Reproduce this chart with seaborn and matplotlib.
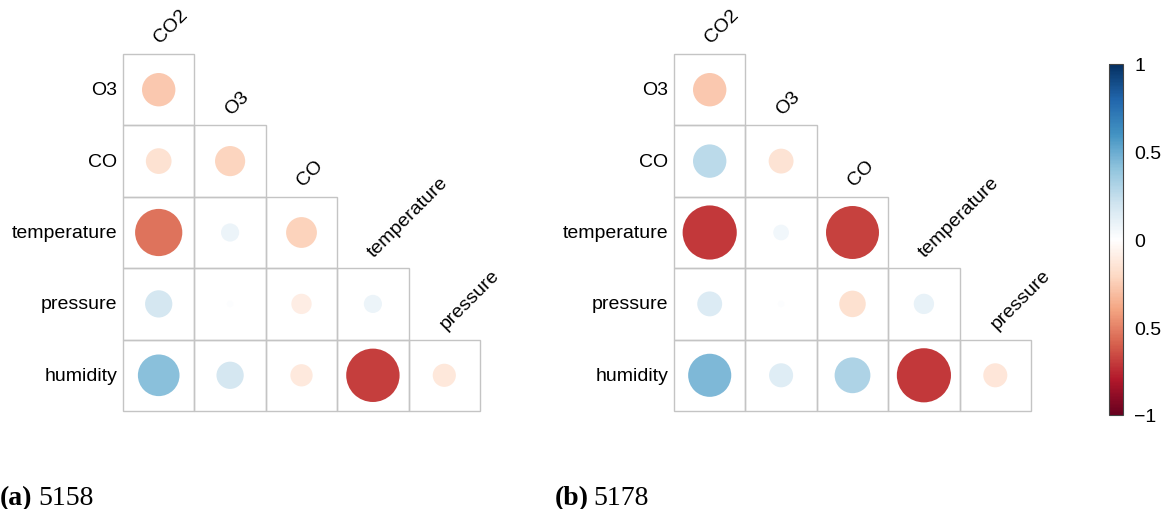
import matplotlib
matplotlib.use("Agg")
import matplotlib.pyplot as plt
import matplotlib.patches as mpatches
from matplotlib.colors import LinearSegmentedColormap
import numpy as np
import pandas as pd
import seaborn as sns

sns.set_theme(style="white")
plt.rcParams["font.family"] = ["Liberation Sans", "DejaVu Sans"]
plt.rcParams["text.color"] = "black"
plt.rcParams["ytick.color"] = "black"

# variables in the correlation matrix
labels = ["CO2", "O3", "CO", "temperature", "pressure", "humidity"]
row_labels = labels[1:]
col_labels = labels[:-1]

# lower triangle, one list per row (O3 .. humidity)
corr_5158 = [
    [-0.27],
    [-0.16, -0.22],
    [-0.54, 0.08, -0.23],
    [0.18, 0.01, -0.10, 0.08],
    [0.42, 0.18, -0.12, -0.69, -0.13],
]
corr_5178 = [
    [-0.27],
    [0.27, -0.15],
    [-0.71, 0.06, -0.68],
    [0.15, 0.01, -0.17, 0.10],
    [0.45, 0.14, 0.31, -0.71, -0.14],
]
captions = [("(a)", "5158"), ("(b)", "5178")]

# diverging red-white-blue ramp (corrplot style)
ramp = ["#67001F", "#B2182B", "#D6604D", "#F4A582", "#FDDBC7", "#FFFFFF",
        "#D1E5F0", "#92C5DE", "#4393C3", "#2166AC", "#053061"]
CMAP = LinearSegmentedColormap.from_list("rdbu_corr", ramp)

W, H = 1162, 510
CELL_PX = 357 / 5
CELL_PT = CELL_PX * 72 / 100
SMAX = (0.9 * CELL_PT) ** 2
GRID = "#c4c4c4"
FS = 14


def to_long(tri):
    recs = []
    for i, vals in enumerate(tri):
        for j, v in enumerate(vals):
            recs.append({"row": i, "col": j, "r": v, "absr": abs(v)})
    return pd.DataFrame(recs)


def draw_corr(ax, tri):
    df = to_long(tri)
    n = len(row_labels)
    for i in range(n):
        for j in range(i + 1):
            ax.add_patch(mpatches.Rectangle((j - 0.5, i - 0.5), 1, 1, fill=False,
                                            edgecolor=GRID, linewidth=1.0,
                                            zorder=1, clip_on=False))
    sns.scatterplot(data=df, x="col", y="row", hue="r", size="absr",
                    palette=CMAP, hue_norm=(-1, 1), sizes=(0, SMAX),
                    size_norm=(0, 1), linewidth=0, legend=False, ax=ax, zorder=2)
    ax.set_xlim(-0.5, n - 0.5)
    ax.set_ylim(n - 0.5, -0.5)
    ax.set_aspect("equal")
    ax.axis("off")
    for i, name in enumerate(row_labels):
        ax.text(-0.58, i, name, ha="right", va="center", fontsize=FS)
    for j, name in enumerate(col_labels):
        ax.text(j + 0.02, j - 0.65, name, ha="left", va="baseline", rotation=45,
                rotation_mode="anchor", fontsize=FS)


fig = plt.figure(figsize=(W / 100, H / 100), dpi=100)

for x0, tri in [(123, corr_5158), (674, corr_5178)]:
    ax = fig.add_axes([x0 / W, (H - 412) / H, 357 / W, 357 / H])
    draw_corr(ax, tri)

# colour legend
cax = fig.add_axes([1109 / W, (H - 416) / H, 14 / W, 351 / H])
sm = plt.cm.ScalarMappable(norm=plt.Normalize(-1, 1), cmap=CMAP)
cb = fig.colorbar(sm, cax=cax)
cb.outline.set_edgecolor("#444444")
cb.outline.set_linewidth(0.8)
cb.set_ticks([-1, -0.5, 0, 0.5, 1])
cb.set_ticklabels(["\u22121", "0.5", "0", "0.5", "1"])
cb.ax.tick_params(length=0, labelsize=FS, pad=8, labelcolor="black")
cb.ax.set_yticks(np.arange(-1, 1.01, 0.2), minor=True)
cb.ax.tick_params(which="minor", length=3, direction="in", color="#444444", width=0.8)

# sub-captions
for x0, (tag, num) in zip([0, 555], captions):
    fig.text(x0 / W, 5 / H, tag, fontsize=20, fontweight="bold",
             family="Liberation Serif", ha="left", va="baseline")
    fig.text((x0 + 38) / W, 5 / H, num, fontsize=20,
             family="Liberation Serif", ha="left", va="baseline")

fig.savefig("out.png", dpi=100)
